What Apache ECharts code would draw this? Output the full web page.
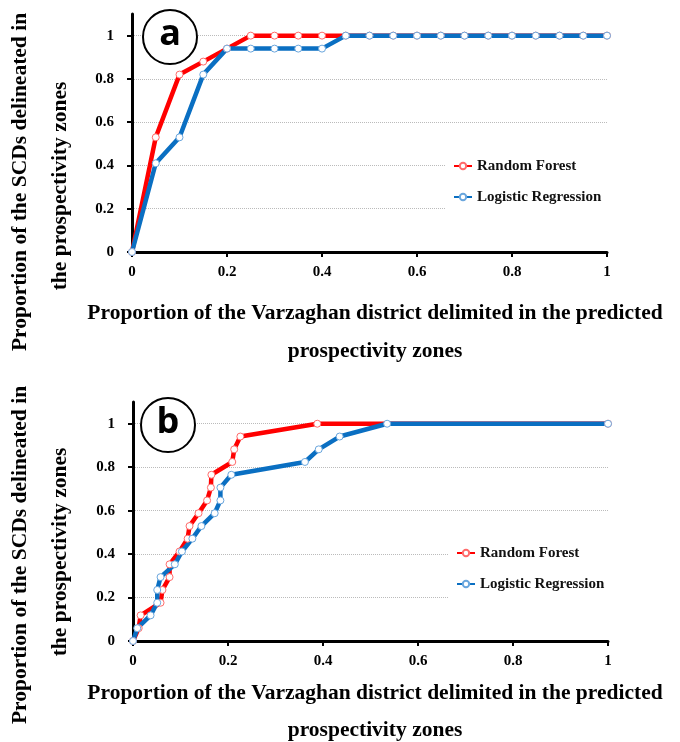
<!DOCTYPE html>
<html>
<head>
<meta charset="utf-8">
<script src="https://cdn.jsdelivr.net/npm/echarts@6/dist/echarts.min.js"></script>
<style>html,body{margin:0;padding:0;background:#fff;}#c{width:680px;height:742px;}</style>
</head>
<body>
<div id="c"></div>
<script>
// ---- data ----
const seriesNames = ['Random Forest', 'Logistic Regression'];
// panel a
const xA = [0, 0.05, 0.1, 0.15, 0.2, 0.25, 0.3, 0.35, 0.4, 0.45, 0.5, 0.55, 0.6, 0.65, 0.7, 0.75, 0.8, 0.85, 0.9, 0.95, 1];
const redA = [0, 0.53, 0.82, 0.88, 0.94, 1, 1, 1, 1, 1, 1, 1, 1, 1, 1, 1, 1, 1, 1, 1, 1];
const blueA = [0, 0.41, 0.53, 0.82, 0.94, 0.94, 0.94, 0.94, 0.94, 1, 1, 1, 1, 1, 1, 1, 1, 1, 1, 1, 1];
// panel b
const redBx = [0, 0.012, 0.016, 0.058, 0.062, 0.077, 0.077, 0.098, 0.115, 0.119, 0.138, 0.156, 0.164, 0.165, 0.209, 0.213, 0.226, 0.388, 1];
const redBy = [0, 0.059, 0.118, 0.176, 0.235, 0.294, 0.353, 0.412, 0.471, 0.529, 0.588, 0.647, 0.706, 0.765, 0.824, 0.882, 0.941, 1, 1];
const blueBx = [0, 0.009, 0.037, 0.051, 0.051, 0.058, 0.088, 0.103, 0.125, 0.144, 0.172, 0.184, 0.184, 0.207, 0.362, 0.391, 0.435, 0.535, 1];
const blueBy = [0, 0.059, 0.118, 0.176, 0.235, 0.294, 0.353, 0.412, 0.471, 0.529, 0.588, 0.647, 0.706, 0.765, 0.824, 0.882, 0.941, 1, 1];
// ticks
const yTicks = [0, 0.2, 0.4, 0.6, 0.8, 1];
const xTicks = [0, 0.2, 0.4, 0.6, 0.8, 1];
const panelLetters = ['a', 'b'];
const xNameLines = ['Proportion of the Varzaghan district delimited in the predicted', 'prospectivity zones'];
const yNameLines = ['Proportion of the SCDs delineated in', 'the prospectivity zones'];

// ---- styling ----
const SERIF = '"Liberation Serif", "DejaVu Serif", serif';
const RED = '#ff0000', BLUE = '#0a6fc2';

function pairs(xs, ys) { return xs.map((x, i) => [x, ys[i]]); }

function xAxisCfg(gi) {
  return {
    type: 'value', gridIndex: gi, min: 0, max: 1, interval: 0.2,
    axisLine: { show: true, lineStyle: { color: '#000', width: 3 } },
    axisTick: { show: true, length: 5, lineStyle: { color: '#000', width: 2 } },
    axisLabel: { color: '#000', fontFamily: SERIF, fontWeight: 'bold', fontSize: 15, margin: 13,
      formatter: v => String(v) },
    splitLine: { show: false }
  };
}
function yAxisCfg(gi) {
  return {
    type: 'value', gridIndex: gi, min: 0, max: 1.1, interval: 0.2,
    axisLine: { show: true, onZero: false, lineStyle: { color: '#000', width: 3 } },
    axisTick: { show: true, length: 5, lineStyle: { color: '#000', width: 2 }, customValues: yTicks },
    axisLabel: { color: '#000', fontFamily: SERIF, fontWeight: 'bold', fontSize: 15, margin: 18,
      customValues: yTicks, formatter: v => (v > 1.001 ? '' : String(v)) },
    splitLine: { show: true, lineStyle: { type: 'dotted', width: 1,
      color: ['#bbbbbb', '#bbbbbb', '#bbbbbb', '#bbbbbb', '#bbbbbb', '#bbbbbb', 'rgba(0,0,0,0)'] } }
  };
}
function lineSeries(name, data, color, border, gi) {
  return {
    name, type: 'line', xAxisIndex: gi, yAxisIndex: gi, data,
    symbol: 'circle', symbolSize: 7, showAllSymbol: true,
    lineStyle: { color, width: 4.5 },
    itemStyle: { color: '#fff', borderColor: border, borderWidth: 1 },
    emphasis: { disabled: true }, animation: false
  };
}
function legendCfg(left, top) {
  return {
    data: seriesNames, orient: 'vertical', left, top,
    itemWidth: 18, itemHeight: 8, itemGap: 13,
    backgroundColor: '#fff', padding: [10, 6, 12, 8],
    textStyle: { fontFamily: SERIF, fontWeight: 'bold', fontSize: 15, color: '#111', lineHeight: 18 }
  };
}
function txt(x, y, s, size, rot, family) {
  return { type: 'text', x, y, rotation: rot || 0, z: 100,
    style: { text: s, fill: '#000', font: 'bold ' + size + 'px ' + (family || SERIF), textAlign: 'center', textVerticalAlign: 'middle' } };
}
function badge(cx, cy, letter) {
  return [
    { type: 'circle', shape: { cx, cy, r: 27 }, z: 100, style: { fill: '#fff', stroke: '#000', lineWidth: 2 } },
    { type: 'text', x: cx, y: cy - 2, z: 101, style: { text: letter, fill: '#000', font: 'bold 36px "Open Sans", "Noto Sans", sans-serif', textAlign: 'center', textVerticalAlign: 'middle' } }
  ];
}

const chart = echarts.init(document.getElementById('c'), null, { renderer: 'canvas' });
chart.setOption({
  animation: false,
  backgroundColor: '#fff',
  grid: [
    { left: 132, top: 14, width: 475, height: 238 },
    { left: 133, top: 402, width: 475, height: 239 }
  ],
  xAxis: [xAxisCfg(0), xAxisCfg(1)],
  yAxis: [yAxisCfg(0), yAxisCfg(1)],
  legend: [legendCfg(445, 147), legendCfg(448, 534)],
  series: [
    lineSeries(seriesNames[0], pairs(xA, redA), RED, '#ff6b6b', 0),
    lineSeries(seriesNames[1], pairs(xA, blueA), BLUE, '#6aa6dd', 0),
    lineSeries(seriesNames[0], pairs(redBx, redBy), RED, '#ff6b6b', 1),
    lineSeries(seriesNames[1], pairs(blueBx, blueBy), BLUE, '#6aa6dd', 1)
  ],
  graphic: [].concat(
    badge(170, 37, panelLetters[0]),
    badge(168, 425, panelLetters[1]),
    [
      txt(375, 313, xNameLines[0], 21.5),
      txt(375, 351, xNameLines[1], 21.5),
      txt(375, 693, xNameLines[0], 21.5),
      txt(375, 730, xNameLines[1], 21.5),
      txt(20, 182, yNameLines[0], 21.5, Math.PI / 2),
      txt(60, 186, yNameLines[1], 21.5, Math.PI / 2),
      txt(20, 555, yNameLines[0], 21.5, Math.PI / 2),
      txt(60, 552, yNameLines[1], 21.5, Math.PI / 2)
    ]
  )
});
</script>
</body>
</html>
